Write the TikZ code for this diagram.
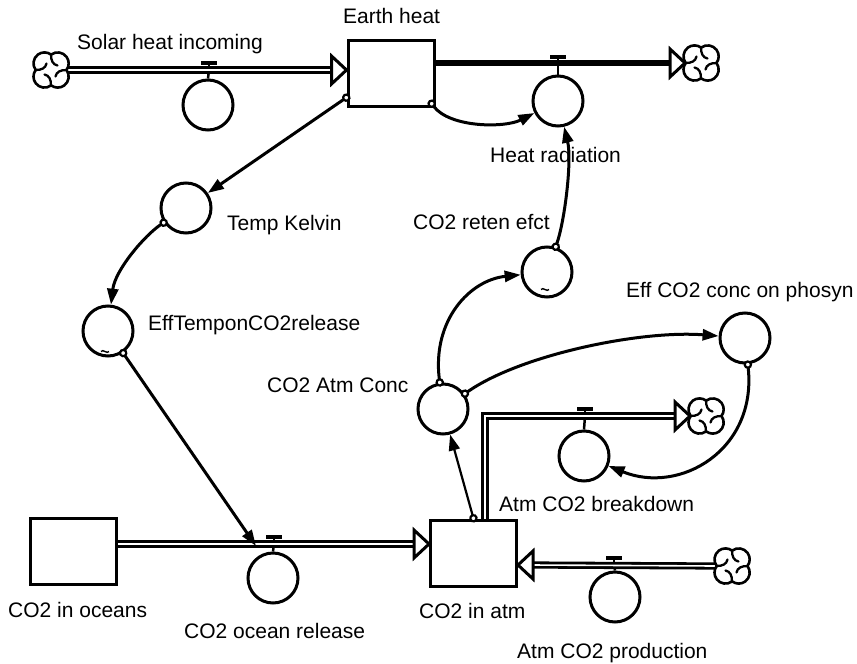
\documentclass[tikz,border=0pt]{standalone}
\usepackage{fontspec}
\setmainfont{Liberation Sans}
\usetikzlibrary{arrows.meta,calc}
\tikzset{
  stock/.style={draw, line width=3pt, minimum width=86pt, minimum height=66pt, inner sep=0pt},
  aux/.style={draw, circle, line width=3pt, minimum size=50pt, inner sep=0pt},
  lbl/.style={anchor=base west, inner sep=0pt, font=\fontsize{21}{25}\selectfont},
  conn/.style={line width=3pt, {Circle[length=8.5pt,width=8.5pt,line width=2.2pt,fill=white]}-{Triangle[length=16pt,width=11pt]}, shorten <=-4pt},
  pipe/.style={double, line width=2.8pt, double distance=1.6pt, line join=miter},
  valvebar/.style={line width=3.5pt},
  cloudsym/.pic={
    \draw[line width=2.6pt, fill=white, line join=round]
      (15.5,0) arc[start angle=-36.87, end angle=126.87, radius=11]
      arc[start angle=53.13, end angle=216.87, radius=11]
      arc[start angle=143.13, end angle=306.87, radius=11]
      arc[start angle=233.13, end angle=396.87, radius=11] -- cycle;
    \foreach \a in {0,90,180,270}
      \draw[line width=2.3pt, rotate=\a, line cap=round] (0,15.5) .. controls (0,9) and (-2,5.5) .. (-6.5,4.5);
  },
  fhead/.pic={
    \draw[line width=3pt, fill=white, line join=miter] (0,0) -- (-15,-14) -- (-15,14) -- cycle;
  },
  tildemark/.pic={
    \draw[line width=1.4pt] (-4,0) .. controls (-2,-3) and (2,3) .. (4,0);
  }
}
\begin{document}
\begin{tikzpicture}[x=1pt,y=-1pt]
\useasboundingbox (0,0) rectangle (857,664);

% stocks
\node[stock] (eh) at (391,73) {};
\node[stock] (oc) at (73.5,551.5) {};
\node[stock] (atm) at (473.5,553) {};

% auxiliaries / converters
\node[aux] (tk) at (186,208) {};
\node[aux] (eft) at (108,331) {};
\node[aux] (rt) at (547,272) {};
\node[aux] (ac) at (443,409) {};
\node[aux] (ep) at (745,338) {};

% flow valve circles
\node[aux] (srv) at (208,105) {};
\node[aux] (hr) at (558,101) {};
\node[aux] (orv) at (273,578) {};
\node[aux] (bdv) at (584,456) {};
\node[aux] (pdv) at (615,597) {};

% clouds
\coordinate (c1) at (51,70);
\coordinate (c2) at (701,63);
\coordinate (c3) at (706,416);
\coordinate (c4) at (732,566);

% pipe points at the valves
\coordinate (srp) at (209,70);
\coordinate (hrp) at (558,64);
\coordinate (orp) at (274,544);
\coordinate (bdp) at (585,416);
\coordinate (pdp) at (614,565);

% valve stems (under pipes)
\foreach \v/\p in {srv/srp, hr/hrp, orv/orp, bdv/bdp, pdv/pdp}{
  \draw[line width=2.5pt] (\v.north) -- (\p);
  \draw[line width=2.5pt] (\p) -- ++(0,-7);
}

% pipes
\draw[pipe] ($(c1)+(17,0)$) -- ($(eh.west |- c1)+(-14,0)$);
\draw[line width=6pt] (eh.east |- c2) -- ($(c2)+(-30,0)$);
\draw[pipe] (oc.east |- orp) -- ($(atm.west |- orp)+(-14,0)$);
\draw[pipe] ($(atm.north east)+(-33,0)$) |- ($(c3)+(-30,0)$);
\draw[pipe] ($(c4)+(-17,0)$) -- ($(atm.east |- pdp)+(14,0)$);

% valve bars
\foreach \p in {srp, hrp, orp, bdp, pdp}
  \draw[valvebar] ($(\p)+(-8,-7)$) -- ($(\p)+(8,-7)$);

% flow heads and clouds
\pic at (eh.west |- c1) {fhead};
\pic at ($(c2)+(-16,0)$) {fhead};
\pic at (atm.west |- orp) {fhead};
\pic at ($(c3)+(-16,0)$) {fhead};
\pic[rotate=180] at (atm.east |- pdp) {fhead};
\pic at (c1) {cloudsym};
\pic at (c2) {cloudsym};
\pic at (c3) {cloudsym};
\pic at (c4) {cloudsym};

% graph function marks
\pic at ($(eft.south)+(-3,-6)$) {tildemark};
\pic at ($(rt.south)+(-2,-9)$) {tildemark};

% connectors
\coordinate (orin) at (256,546);
\draw[conn] ($(eh.south west)+(0,-10)$) -- (tk);
\draw[conn] ($(eh.south east)+(-4,-4)$) .. controls (450,128) and (505,128) .. (hr);
\draw[conn] (rt) .. controls (565,220) and (572,160) .. (hr);
\draw[conn] (tk) .. controls (145,235) and (115,270) .. (eft);
\draw[conn] (eft) -- (orin);
\draw[conn] (ac) .. controls (432,320) and (470,280) .. (rt);
\draw[conn] (ac) .. controls (520,355) and (640,330) .. (ep);
\draw[conn] (ep) .. controls (757,450) and (680,495) .. (bdv);
\draw[conn, line width=2.2pt] (atm.north) -- (ac);

% labels
\node[lbl] (l1) at (343,23) {Earth heat};
\node[lbl] (l2) at (77,49) {Solar heat incoming};
\node[lbl] (l3) at (490,162) {Heat radiation};
\node[lbl] (l4) at (227,230) {Temp Kelvin};
\node[lbl] (l5) at (413,229) {CO2 reten efct};
\node[lbl] (l6) at (148,330) {EffTemponCO2release};
\node[lbl] (l7) at (267,392) {CO2 Atm Conc};
\node[lbl] (l8) at (626,297) {Eff CO2 conc on phosyn};
\node[lbl] (l9) at (499,511) {Atm CO2 breakdown};
\node[lbl] (l10) at (8,617) {CO2 in oceans};
\node[lbl] (l11) at (184,638) {CO2 ocean release};
\node[lbl] (l12) at (419,618) {CO2 in atm};
\node[lbl] (l13) at (517,658) {Atm CO2 production};
\end{tikzpicture}
\end{document}
